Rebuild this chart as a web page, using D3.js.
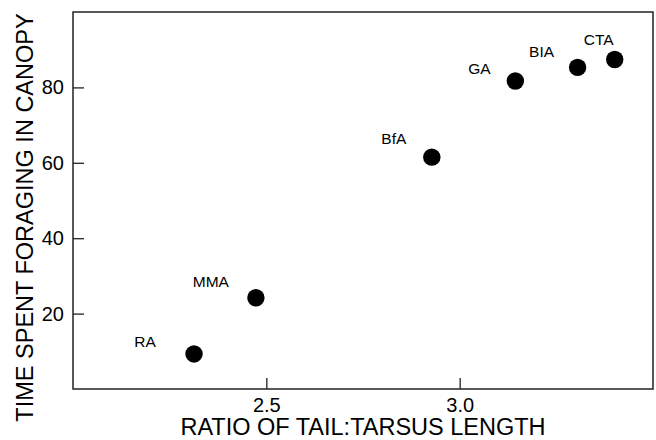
<!DOCTYPE html>
<html>
<head>
<meta charset="utf-8">
<script src="https://cdn.jsdelivr.net/npm/d3@7"></script>
<style>
  body { margin: 0; background: #fff; }
  text { font-family: "Liberation Sans", Arial, sans-serif; fill: #000; }
</style>
</head>
<body>
<div id="scatter"></div>
<script>
// data
var species = ["RA", "MMA", "BfA", "GA", "BIA", "CTA"];
var tailTarsus = [2.313, 2.473, 2.928, 3.144, 3.305, 3.401];
var canopyTime = [9.3, 24.2, 61.5, 81.7, 85.3, 87.4];
var xTicks = [2.5, 3.0];
var yTicks = [20, 40, 60, 80];

// label offsets from each point (dx to label centre, dy to baseline)
var labelOffsets = [[-49, -7], [-45, -11], [-38, -13], [-36, -7], [-36, -10], [-16, -15]];

var svgWidth = 656;
var svgHeight = 440;

var margin = { top: 12, right: 3, bottom: 51, left: 73 };
var width = svgWidth - margin.left - margin.right;
var height = svgHeight - margin.top - margin.bottom;

var svg = d3.select("#scatter")
  .append("svg")
  .attr("width", svgWidth)
  .attr("height", svgHeight);

var chartGroup = svg.append("g")
  .attr("transform", `translate(${margin.left}, ${margin.top})`);

var data = species.map(function(s, i) {
  return { abbr: s, ratio: tailTarsus[i], time: canopyTime[i], off: labelOffsets[i] };
});

var x = d3.scaleLinear().domain([2.0, 3.5]).range([0, width]);
var y = d3.scaleLinear().domain([0, 100]).range([height, 0]);

// axes with inward ticks
var bottomAxis = d3.axisBottom(x).tickValues(xTicks).tickFormat(d3.format(".1f"))
  .tickSizeInner(-11).tickSizeOuter(0).tickPadding(9);
var leftAxis = d3.axisLeft(y).tickValues(yTicks)
  .tickSizeInner(-11).tickSizeOuter(0).tickPadding(9);

var gx = chartGroup.append("g")
  .attr("transform", `translate(0, ${height})`)
  .call(bottomAxis);
var gy = chartGroup.append("g").call(leftAxis);

[gx, gy].forEach(function(g) {
  g.select(".domain").remove();
  g.selectAll("line").attr("stroke", "#222").attr("stroke-width", 1.3);
  g.selectAll("text")
    .style("font-family", "'Liberation Sans', Arial, sans-serif")
    .style("font-size", "20px")
    .attr("fill", "#000");
});

// frame
chartGroup.append("rect")
  .attr("width", width)
  .attr("height", height)
  .attr("fill", "none")
  .attr("stroke", "#222")
  .attr("stroke-width", 1.5);

// axis titles
svg.append("text")
  .attr("x", margin.left + width / 2)
  .attr("y", 435)
  .style("text-anchor", "middle")
  .style("font-size", "23.5px")
  .text("RATIO OF TAIL:TARSUS LENGTH");

svg.append("text")
  .attr("transform", "translate(33, 217.5) rotate(-90)")
  .style("text-anchor", "middle")
  .style("font-size", "23.5px")
  .text("TIME SPENT FORAGING IN CANOPY");

// points
chartGroup.selectAll("circle")
  .data(data)
  .enter()
  .append("circle")
  .attr("cx", d => x(d.ratio))
  .attr("cy", d => y(d.time))
  .attr("r", 8.7)
  .attr("fill", "#000");

// species labels
chartGroup.selectAll(".abbr")
  .data(data)
  .enter()
  .append("text")
  .attr("class", "abbr")
  .attr("x", d => x(d.ratio) + d.off[0])
  .attr("y", d => y(d.time) + d.off[1])
  .style("text-anchor", "middle")
  .style("font-size", "15.5px")
  .text(d => d.abbr);
</script>
</body>
</html>
